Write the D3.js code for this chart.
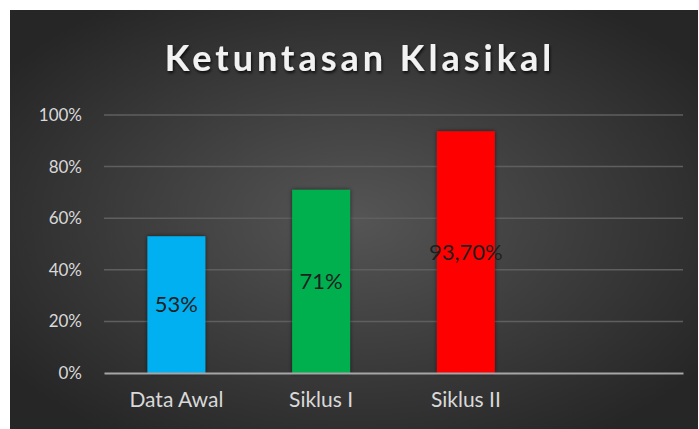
<!DOCTYPE html>
<html>
<head>
<meta charset="utf-8">
<script src="https://cdn.jsdelivr.net/npm/d3@7"></script>
<style>
  html, body { margin: 0; padding: 0; background: #fff; }
  text { font-family: Lato, "Open Sans", sans-serif; }
</style>
</head>
<body>
<div id="chart"></div>
<script>
var categories = ["Data Awal", "Siklus I", "Siklus II", ""];
var values = [0.53, 0.71, 0.937, null];
var valueLabels = ["53%", "71%", "93,70%", ""];
var barColors = ["#00b0f0", "#00b050", "#ff0000", "none"];
var yTicks = [0, 0.2, 0.4, 0.6, 0.8, 1.0];

function init() {
    var W = 699, H = 429;
    var margin = { top: 115, right: 16, bottom: 56, left: 104 };
    var w = W - margin.left - margin.right;
    var h = H - margin.top - margin.bottom;

    var root = d3.select("#chart").append("svg")
        .attr("width", W)
        .attr("height", H);

    var defs = root.append("defs");
    var grad = defs.append("radialGradient")
        .attr("id", "bg")
        .attr("cx", "50%").attr("cy", "50%").attr("r", "62%");
    grad.append("stop").attr("offset", "0%").attr("stop-color", "#555555");
    grad.append("stop").attr("offset", "100%").attr("stop-color", "#262626");

    var shadow = defs.append("filter").attr("id", "shadow")
        .attr("x", "-20%").attr("y", "-20%").attr("width", "140%").attr("height", "140%");
    shadow.append("feDropShadow")
        .attr("dx", 0).attr("dy", 0).attr("stdDeviation", 2)
        .attr("flood-color", "#000").attr("flood-opacity", 0.6);

    var tshadow = defs.append("filter").attr("id", "tshadow")
        .attr("x", "-10%").attr("y", "-30%").attr("width", "120%").attr("height", "160%");
    tshadow.append("feDropShadow")
        .attr("dx", 1).attr("dy", 2).attr("stdDeviation", 1.5)
        .attr("flood-color", "#000").attr("flood-opacity", 0.8);

    // chart background
    root.append("rect")
        .attr("x", 10).attr("y", 10)
        .attr("width", W - 11).attr("height", H - 10)
        .attr("fill", "url(#bg)");

    // title
    root.append("text")
        .attr("x", 360)
        .attr("y", 71)
        .attr("text-anchor", "middle")
        .attr("fill", "#f2f2f2")
        .attr("font-size", 36)
        .attr("font-weight", "bold")
        .attr("letter-spacing", 4)
        .attr("filter", "url(#tshadow)")
        .text("Ketuntasan Klasikal");

    var svg = root.append("g")
        .attr("transform", "translate(" + margin.left + "," + margin.top + ")");

    var xScale = d3.scaleBand()
        .domain(categories)
        .range([0, w])
        .paddingInner(0.6)
        .paddingOuter(0.3);

    var yScale = d3.scaleLinear()
        .domain([0, 1])
        .range([h, 0]);

    // gridlines
    svg.append("g")
        .selectAll("line")
        .data(yTicks.filter(function(d) { return d > 0; }))
        .enter().append("line")
        .attr("x1", 0).attr("x2", w)
        .attr("y1", function(d) { return yScale(d); })
        .attr("y2", function(d) { return yScale(d); })
        .attr("stroke", "#5f5f5f")
        .attr("stroke-width", 1.5);

    // y axis
    var yAxis = d3.axisLeft(yScale)
        .tickValues(yTicks)
        .tickFormat(d3.format(".0%"))
        .tickSize(0)
        .tickPadding(22);

    var yG = svg.append("g").call(yAxis);
    yG.select(".domain").remove();
    yG.selectAll("text")
        .attr("fill", "#d9d9d9")
        .attr("font-size", 17);

    // bars
    var data = categories.map(function(c, i) {
        return { cat: c, value: values[i], label: valueLabels[i], color: barColors[i] };
    }).filter(function(d) { return d.value !== null; });

    svg.selectAll(".bar")
        .data(data)
        .enter().append("rect")
        .attr("class", "bar")
        .attr("x", function(d) { return xScale(d.cat); })
        .attr("y", function(d) { return yScale(d.value); })
        .attr("width", xScale.bandwidth())
        .attr("height", function(d) { return h - yScale(d.value); })
        .attr("fill", function(d) { return d.color; })
        .attr("filter", "url(#shadow)");

    // value labels in the middle of each bar
    svg.selectAll(".vlabel")
        .data(data)
        .enter().append("text")
        .attr("class", "vlabel")
        .attr("x", function(d) { return xScale(d.cat) + xScale.bandwidth() / 2; })
        .attr("y", function(d) { return yScale(d.value / 2); })
        .attr("dy", "0.35em")
        .attr("text-anchor", "middle")
        .attr("fill", "#1f1f1f")
        .attr("font-size", 22)
        .text(function(d) { return d.label; });

    // x axis
    var xAxis = d3.axisBottom(xScale).tickSize(0).tickPadding(16);
    var xG = svg.append("g")
        .attr("transform", "translate(0," + h + ")")
        .call(xAxis);
    xG.select(".domain")
        .attr("stroke", "#a6a6a6")
        .attr("stroke-width", 2);
    xG.selectAll("text")
        .attr("fill", "#d9d9d9")
        .attr("font-size", 21)
        .attr("dy", "0.85em");
}

window.onload = init;
</script>
</body>
</html>
